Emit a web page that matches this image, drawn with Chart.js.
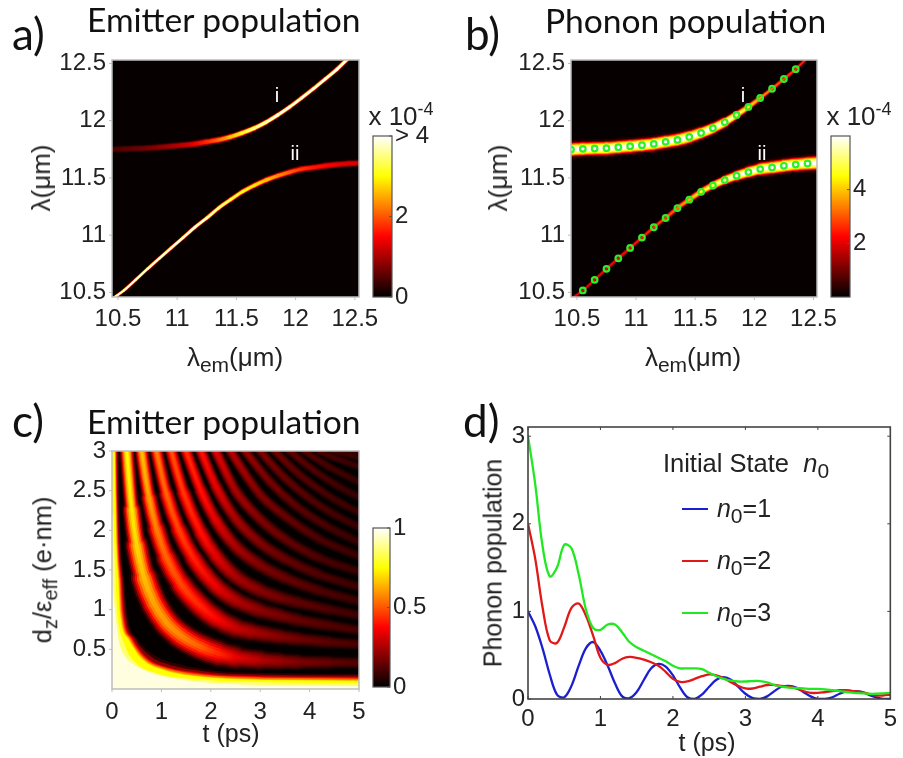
<!DOCTYPE html>
<html><head><meta charset="utf-8">
<script src="https://cdn.jsdelivr.net/npm/chart.js@4"></script>
<style>
html,body{margin:0;padding:0;background:#fff;width:903px;height:758px;overflow:hidden}
#page{position:absolute;left:0;top:0;width:903px;height:758px;filter:blur(.45px)}
canvas{position:absolute;left:0;top:0}
.t{position:absolute;white-space:nowrap;font-family:"Liberation Sans",sans-serif;color:#222;z-index:5;line-height:1;transform:translate(-50%,-50%)}
.h{position:absolute;white-space:nowrap;font-family:Lato,sans-serif;color:#111;z-index:5;line-height:1;transform:translateY(-50%)}
.r{transform:translate(-50%,-50%) rotate(-90deg)}
.l{position:absolute;height:2px;width:26px;left:682px;z-index:5}
sub,sup{line-height:0}
i{font-style:italic}
</style></head><body><div id="page">
<div class="h" style="left:12px;top:33px;font-size:44px">a)</div>
<div class="h" style="left:87px;top:20px;font-size:33.6px">Emitter population</div>
<div class="h" style="left:465px;top:33px;font-size:44px">b)</div>
<div class="h" style="left:545px;top:21px;font-size:33.6px">Phonon population</div>
<div class="h" style="left:12px;top:420px;font-size:44px">c)</div>
<div class="h" style="left:87px;top:422px;font-size:33.6px">Emitter population</div>
<div class="h" style="left:463px;top:420px;font-size:44px">d)</div>
<div class="t r" style="left:41px;top:178px;font-size:26px">λ(μm)</div>
<div class="t" style="left:235px;top:357px;font-size:26px">λ<sub style="font-size:21px">em</sub>(μm)</div>
<div class="t r" style="left:498px;top:178px;font-size:26px">λ(μm)</div>
<div class="t" style="left:693px;top:357px;font-size:26px">λ<sub style="font-size:21px">em</sub>(μm)</div>
<div class="t r" style="left:43px;top:570px;font-size:25.5px">d<sub style="font-size:20px">z</sub>/ε<sub style="font-size:20px">eff</sub> (e·nm)</div>
<div class="t" style="left:231px;top:733px;font-size:25px">t (ps)</div>
<div class="t r" style="left:493px;top:563px;font-size:25px">Phonon population</div>
<div class="t" style="left:707px;top:742px;font-size:25px">t (ps)</div>
<div class="t" style="left:401px;top:116px;font-size:26px">x 10<sup style="font-size:18px">-4</sup></div>
<div class="t" style="left:859px;top:116px;font-size:26px">x 10<sup style="font-size:18px">-4</sup></div>
<div class="t" style="left:277px;top:95px;font-size:20px;color:#fff">i</div>
<div class="t" style="left:295px;top:153px;font-size:20px;color:#fff">ii</div>
<div class="t" style="left:743px;top:95px;font-size:20px;color:#fff">i</div>
<div class="t" style="left:762px;top:153px;font-size:20px;color:#fff">ii</div>
<div class="t" style="left:746px;top:464px;font-size:25.5px">Initial State &nbsp;<i>n</i><sub style="font-size:21px">0</sub></div>
<div class="l" style="top:508px;background:#1a1fd0"></div>
<div class="l" style="top:560px;background:#e01818"></div>
<div class="l" style="top:612px;background:#22e822"></div>
<div class="t" style="left:744px;top:508px;font-size:25px"><i>n</i><sub style="font-size:21px">0</sub>=1</div>
<div class="t" style="left:744px;top:560px;font-size:25px"><i>n</i><sub style="font-size:21px">0</sub>=2</div>
<div class="t" style="left:744px;top:612px;font-size:25px"><i>n</i><sub style="font-size:21px">0</sub>=3</div>
</div>
<script>
// ---------- data ----------
const wavelengthTicks=[10.5,11,11.5,12,12.5];
const upperX=[10.45,10.55,10.65,10.75,10.85,10.95,11.05,11.15,11.25,11.35,11.45,11.55,11.65,11.75,11.85,11.95,12.05,12.15,12.25,12.35];
const upperL=[11.748,11.754,11.757,11.76,11.768,11.777,11.786,11.797,11.815,11.832,11.858,11.893,11.934,11.986,12.05,12.12,12.198,12.279,12.364,12.45];
const lowerX=[10.55,10.65,10.75,10.85,10.95,11.05,11.15,11.25,11.35,11.45,11.55,11.65,11.75,11.85,11.95,12.05,12.15,12.25,12.35,12.45];
const lowerL=[10.517,10.61,10.706,10.798,10.889,10.979,11.069,11.15,11.237,11.31,11.379,11.434,11.481,11.519,11.551,11.577,11.591,11.606,11.617,11.626];
const upperTail=[[12.44,12.54]];
const lowerHead=[[10.46,10.45]];
const lowerTail=[[12.54,11.63]];

const timeTicks=[0,1,2,3,4,5];
const couplingTicks=[0.5,1,1.5,2,2.5,3];
// fringes of panel c as [t, d] pairs
const ridge1=[[.29,3.1],[.3,3],[.4,2.26],[.5,1.81],[.65,1.4],[.85,1.08],[1.1,.84],[1.4,.67],[1.8,.53],[2.15,.45],[2.5,.4],[3,.365],[3.4,.35],[3.77,.34],[4.4,.335],[5.1,.33]];
const ridge2=[[.57,3.15],[.6,3],[.75,2.41],[.9,2.02],[1.1,1.66],[1.4,1.32],[1.8,1.04],[2.1,.895],[2.5,.77],[2.8,.725],[3.1,.69],[3.4,.66],[3.77,.63],[4.4,.59],[5.1,.56]];
const ridge3=[[.85,3.17],[.9,3],[1.1,2.46],[1.35,2.01],[1.65,1.65],[2.1,1.3],[2.5,1.12],[3,.99],[3.4,.925],[3.77,.87],[4.4,.8],[5.1,.73]];
const ridge4=[[1.1,3.25],[1.2,3],[1.45,2.47],[1.8,1.97],[2.1,1.68],[2.5,1.42],[3,1.24],[3.4,1.15],[3.77,1.09],[4.4,1],[5.1,.92]];
const ridge5=[[1.4,3.18],[1.5,3],[1.8,2.5],[2.1,2.13],[2.5,1.8],[3,1.56],[3.5,1.4],[4.2,1.24],[5.1,1.09]];
const ridge6=[[1.7,3.15],[1.8,3],[2.1,2.56],[2.5,2.15],[3,1.84],[3.5,1.64],[4.2,1.44],[5.1,1.27]];
const ridge7=[[2,3.13],[2.1,3],[2.5,2.5],[3,2.14],[3.5,1.89],[4.2,1.65],[5.1,1.46]];
const ridge8=[[2.3,3.11],[2.4,3],[3,2.45],[3.5,2.18],[4.2,1.89],[5.1,1.65]];
const ridge9=[[2.6,3.09],[2.7,3],[3.2,2.61],[3.7,2.32],[4.3,2.07],[5.1,1.82]];
const ridge10=[[2.9,3.08],[3,3],[3.5,2.66],[4,2.4],[4.5,2.2],[5.1,2.01]];
const ridge11=[[3.2,3.07],[3.3,3],[3.8,2.7],[4.3,2.47],[4.7,2.32],[5.1,2.2]];
const ridge12=[[3.5,3.06],[3.6,3],[4.1,2.75],[4.6,2.55],[5.1,2.39]];
const ridge13=[[3.8,3.05],[3.9,3],[4.4,2.8],[4.8,2.67],[5.1,2.58]];
const ridge14=[[4.1,3.04],[4.2,3],[4.7,2.87],[5.1,2.78]];
const ridge15=[[4.4,3.02],[4.5,3],[5.1,2.9]];
const ridge16=[[4.7,3.02],[4.8,3],[5.1,2.97]];
const ridges=[ridge1,ridge2,ridge3,ridge4,ridge5,ridge6,ridge7,ridge8,ridge9,ridge10,ridge11,ridge12,ridge13,ridge14,ridge15,ridge16];
// level contours of the bright corner of panel c
const contourDark=[[0,3.1],[.13,3.1],[.15,2.4],[.18,1.8],[.24,1.39],[.3,.97],[.52,.63],[.88,.42],[1.3,.32],[1.85,.25],[2.49,.21],[5.1,.19]];
const contourDarkRed=[[0,3.1],[.11,3.1],[.13,2.4],[.16,1.8],[.22,1.39],[.27,.97],[.475,.63],[.81,.4],[1.2,.3],[1.85,.225],[2.49,.19],[5.1,.17]];
const contourRed=[[0,3.1],[.09,3.1],[.11,2.4],[.14,1.8],[.195,1.39],[.24,.97],[.43,.63],[.74,.38],[1.1,.28],[1.85,.2],[2.49,.17],[5.1,.15]];
const contourOrangeRed=[[0,3.1],[.08,3.1],[.1,2.4],[.128,1.8],[.178,1.39],[.22,.97],[.405,.63],[.705,.38],[1.09,.27],[1.85,.187],[2.49,.16],[5.1,.137]];
const contourOrange=[[0,3.1],[.07,3.1],[.09,2.4],[.115,1.8],[.16,1.39],[.2,.97],[.38,.63],[.67,.38],[1.08,.26],[1.85,.175],[2.49,.15],[5.1,.125]];
const contourYellowOrange=[[0,3.1],[.06,3.1],[.08,2.4],[.102,1.8],[.144,1.39],[.18,.97],[.355,.63],[.635,.38],[1.075,.247],[1.85,.162],[2.49,.137],[5.1,.112]];
const contourYellow=[[0,3.1],[.05,3.1],[.07,2.4],[.09,1.8],[.128,1.39],[.16,.97],[.33,.63],[.6,.38],[1.07,.235],[1.85,.15],[2.49,.125],[5.1,.10]];
const contourPale=[[0,2.2],[.03,2.2],[.05,1.8],[.085,1.2],[.125,.88],[.24,.58],[.45,.35],[.9,.2],[1.8,.12],[2.49,.095],[5.1,.07]];
const contourWhite=[[0,1.5],[.03,1.2],[.094,.8],[.16,.55],[.3,.38],[.465,.3],[.84,.196],[1.78,.09],[2.49,.06],[5.1,.035]];

const tSamples=[0,.1,.2,.3,.4,.5,.6,.7,.8,.9,1,1.1,1.2,1.3,1.4,1.5,1.6,1.7,1.8,1.9,2,2.1,2.2,2.3,2.4,2.5,2.6,2.7,2.8,2.9,3,3.1,3.2,3.3,3.4,3.5,3.6,3.7,3.8,3.9,4,4.1,4.2,4.3,4.4,4.5,4.6,4.7,4.8,4.9,5];
const phononN1=[1,.83,.58,.28,.05,.02,.15,.38,.58,.65,.55,.38,.18,.03,.01,.08,.22,.35,.4,.37,.27,.13,.02,0,.05,.14,.22,.25,.22,.14,.06,.01,0,.03,.09,.14,.15,.13,.08,.03,0,0,.02,.06,.09,.09,.08,.05,.02,0,0];
const phononN2=[2,1.6,1.05,.67,.64,.82,1.04,1.09,.95,.72,.47,.39,.41,.46,.48,.47,.45,.42,.38,.31,.23,.195,.2,.23,.26,.28,.27,.24,.19,.15,.12,.12,.14,.16,.16,.15,.14,.12,.09,.07,.07,.08,.09,.1,.1,.09,.08,.06,.04,.04,.05];
const phononN3=[3,2.45,1.75,1.4,1.5,1.76,1.72,1.42,1.02,.81,.79,.85,.85,.76,.65,.59,.55,.51,.47,.43,.38,.35,.35,.35,.34,.3,.26,.23,.21,.2,.2,.205,.205,.19,.16,.14,.13,.125,.12,.115,.115,.11,.1,.09,.08,.07,.065,.06,.06,.065,.07];
const phononTicks=[0,1,2,3];

// ---------- styling helpers ----------
const pts=a=>a.map(p=>({x:p[0],y:p[1]}));
const zip=(x,y)=>x.map((v,i)=>({x:v,y:y[i]}));
function hot(v){v=Math.max(0,Math.min(1,v));
  const r=Math.min(1,v/.375),g=Math.max(0,Math.min(1,(v-.375)/.375)),b=Math.max(0,Math.min(1,(v-.75)/.25));
  return `rgb(${Math.round(r*255)},${Math.round(g*255)},${Math.round(b*255)})`;}
function look(st,x){if(x<=st[0][0])return st[0][1];
  for(let i=1;i<st.length;i++){if(x<=st[i][0]){const a=st[i-1],b=st[i];return a[1]+(b[1]-a[1])*(x-a[0])/(b[0]-a[0]);}}
  return st[st.length-1][1];}
const mono={tension:0,cubicInterpolationMode:'monotone',pointRadius:0,pointHoverRadius:0,fill:false,borderCapStyle:'round',borderJoinStyle:'round'};

function stripe(data,layers,widthAt,valueAt,baseOrder){
  return layers.map((ly,i)=>({...mono,data,order:baseOrder+layers.length-i,borderColor:'#000',borderWidth:2,
    segment:{
      borderColor:c=>{
        const a=c.p0,b=c.p1;
        const g=c.chart.ctx.createLinearGradient(a.x,a.y,b.x,b.y);
        g.addColorStop(0,hot(valueAt(a.parsed.x,a.parsed.y)*ly[1]));
        g.addColorStop(1,hot(valueAt(b.parsed.x,b.parsed.y)*ly[1]));
        return g;},
      borderWidth:c=>Math.max(.4,widthAt((c.p0.parsed.x+c.p1.parsed.x)/2,(c.p0.parsed.y+c.p1.parsed.y)/2)*ly[0])
    }}));
}
function framePlugin(col,tickLen,inward,allSides,bw){
  return {id:'frame',afterDraw(ch){
    const a=ch.chartArea,c=ch.ctx;c.save();c.strokeStyle=col;c.lineWidth=bw;
    c.strokeRect(a.left,a.top,a.right-a.left,a.bottom-a.top);
    c.lineWidth=1;c.beginPath();
    const sx=ch.scales.x,sy=ch.scales.y;
    if(sx&&sx.options.display!==false)sx.ticks.forEach(t=>{const p=sx.getPixelForValue(t.value);
      c.moveTo(p,a.bottom);c.lineTo(p,a.bottom+(inward?-tickLen:tickLen));
      if(allSides){c.moveTo(p,a.top);c.lineTo(p,a.top+tickLen);}});
    if(sy)sy.ticks.forEach(t=>{const p=sy.getPixelForValue(t.value);
      if(sy.options.position==='right'){c.moveTo(a.right,p);c.lineTo(a.right-tickLen,p);}
      else{c.moveTo(a.left,p);c.lineTo(a.left+(inward?tickLen:-tickLen),p);
        if(allSides){c.moveTo(a.right,p);c.lineTo(a.right-tickLen,p);}}});
    c.stroke();c.restore();}};
}
function bgPlugin(col){return {id:'bg',beforeDatasetsDraw(ch){const a=ch.chartArea,c=ch.ctx;c.save();c.fillStyle=col;c.fillRect(a.left,a.top,a.right-a.left,a.bottom-a.top);c.restore();}};}
const tickFont={family:'"Liberation Sans"',size:24};
function axis(min,max,tickVals,position,size,pad){
  const horiz=position==='bottom';
  return {type:'linear',position,min,max,offset:false,
    grid:{display:false,drawTicks:false},border:{display:false},
    afterBuildTicks:s=>{s.ticks=tickVals.map(v=>({value:v}));},
    afterFit:s=>{if(horiz)s.height=size;else s.width=size;},
    ticks:{autoSkip:false,maxRotation:0,minRotation:0,padding:pad,color:'#222',font:tickFont,callback:v=>String(v)}};
}
function panel(box,datasets,scales,plugins){
  const cv=document.createElement('canvas');cv.width=903;cv.height=758;cv.style.width='903px';cv.style.height='758px';
  document.getElementById('page').appendChild(cv);
  return new Chart(cv,{type:'line',data:{datasets},plugins,options:{responsive:false,animation:false,events:[],
    layout:{padding:box},scales,
    plugins:{legend:{display:false},tooltip:{enabled:false},title:{display:false}}}});
}
const box=(l,t,r,b,yw,xh)=>({left:l-yw,top:t,right:903-r,bottom:758-b-xh});

// ---------- panel a and b ----------
const upperLine=[...zip(upperX,upperL),...pts(upperTail)];
const lowerLine=[...pts(lowerHead),...zip(lowerX,lowerL),...pts(lowerTail)];
const ridgeLayersA=[[1,.1],[.85,.3],[.7,.55],[.55,.8],[.4,1]];
const ridgeLayersB=[[1.25,.05],[1,.18],[.88,.38],[.76,.58],[.62,.74],[.46,.86],[.26,1]];
const aUpperV=[[10.45,.11],[10.8,.19],[11.1,.3],[11.3,.48],[11.5,.72],[11.65,.9],[11.85,1]];
const aUpperW=[[10.45,8],[11.2,8],[11.5,7],[11.8,5.5],[12,5],[12.5,5]];
const aLowerV=[[10.45,1],[11.2,1],[11.35,.9],[11.5,.8],[11.7,.7],[11.9,.55],[12.1,.42],[12.53,.3]];
const aLowerW=[[10.45,3.5],[11.2,4.5],[11.5,5.5],[11.8,7],[12.53,8]];
const bUpperV=[[10.45,1],[11.7,1],[11.85,.9],[12,.65],[12.2,.5],[12.53,.4]];
const bUpperW=[[10.45,15],[11.4,14],[11.7,11],[11.9,7],[12.1,4.5],[12.53,3]];
const bLowerV=[[10.47,.35],[11,.4],[11.3,.5],[11.5,.7],[11.7,.9],[11.9,1]];
const bLowerW=[[10.47,3],[11.2,4],[11.5,6.5],[11.8,10],[12.1,14],[12.53,15]];
const bgDark='#070000';

panel(box(112,60,359,297,70,46),[
  ...stripe(upperLine,ridgeLayersA,x=>look(aUpperW,x),x=>look(aUpperV,x),0),
  ...stripe(lowerLine,ridgeLayersA,x=>look(aLowerW,x),x=>look(aLowerV,x),0)
],{x:axis(10.45,12.535,wavelengthTicks,'bottom',46,8),y:axis(10.46,12.53,wavelengthTicks,'left',70,6)},
[bgPlugin(bgDark),framePlugin('#bdbdbd',3,false,false,1.5)]);

panel(box(571,60,817,297,70,46),[
  {type:'line',data:zip(upperX,upperL),showLine:false,pointRadius:2.8,pointBorderWidth:2.2,pointBorderColor:'#2cf02c',pointBackgroundColor:'rgba(0,0,0,0)',order:-2},
  {type:'line',data:zip(lowerX,lowerL),showLine:false,pointRadius:2.8,pointBorderWidth:2.2,pointBorderColor:'#2cf02c',pointBackgroundColor:'rgba(0,0,0,0)',order:-2},
  ...stripe(upperLine,ridgeLayersB,x=>look(bUpperW,x),x=>look(bUpperV,x),0),
  ...stripe(lowerLine,ridgeLayersB,x=>look(bLowerW,x),x=>look(bLowerV,x),0)
],{x:axis(10.45,12.53,wavelengthTicks,'bottom',46,8),y:axis(10.46,12.53,wavelengthTicks,'left',70,6)},
[bgPlugin(bgDark),framePlugin('#bdbdbd',3,false,false,1.5)]);

// ---------- panel c ----------
const fringeLayers=[[.9,.05],[.78,.2],[.67,.4],[.55,.6],[.43,.78],[.29,.92],[.14,1]];
const fringePeak=[[0,.95],[.3,.75],[.6,.66],[.9,.56],[1.3,.48],[1.9,.38],[2.5,.25],[3,.19],[3.8,.13],[5,.08]];
const fringeBoost=[[.2,1.5],[.5,1.3],[1,1.08],[1.5,1],[2,1]];
const fringeWidth=(t,d)=>Math.max(10,Math.min(34,.95/Math.hypot(d/49.4,t/79.4)));
const fringeValue=(t,d)=>Math.min(.8,look(fringePeak,t)*look(fringeBoost,d));
const contourSets=[[contourDark,.07],[contourDarkRed,.2],[contourRed,.33],[contourOrangeRed,.44],[contourOrange,.55],[contourYellowOrange,.65],[contourYellow,.75],[contourPale,.86],[contourWhite,.97]].map((c,i)=>({
  ...mono,data:pts(c[0]),borderWidth:0,borderColor:'rgba(0,0,0,0)',backgroundColor:hot(c[1]),fill:'origin',order:-10-i
}));
panel(box(112,451,359,689,70,46),[
  ...ridges.flatMap(r=>stripe(pts(r),fringeLayers,fringeWidth,fringeValue,0)),
  ...contourSets
],{x:axis(0,5,timeTicks,'bottom',46,9),y:axis(0,3,couplingTicks,'left',70,6)},
[bgPlugin('#050000'),framePlugin('#bdbdbd',3,false,false,1.5)]);

// ---------- panel d ----------
const curve=(v,col,o)=>({...mono,cubicInterpolationMode:'default',tension:.35,data:zip(tSamples,v),borderColor:col,borderWidth:2.3,order:o});
panel(box(528,427,896,699,70,46),[
  curve(phononN3,'#22e822',1),curve(phononN2,'#e01818',2),curve(phononN1,'#1a1fd0',3)
],{x:axis(0,5,timeTicks,'bottom',46,6),y:axis(0,3.105,phononTicks,'left',70,3)},
[framePlugin('#444',3,true,true,1.6)]);

// ---------- colour bars ----------
function colorbar(l,t,r,b,maxV,vals,labelFn){
  const ds=[{type:'bar',data:[{x:'c',y:maxV}],categoryPercentage:1,barPercentage:1,borderWidth:0,
    backgroundColor:c=>{const a=c.chart.chartArea;if(!a)return '#000';
      const g=c.chart.ctx.createLinearGradient(0,a.bottom,0,a.top);
      g.addColorStop(0,'#000');g.addColorStop(.375,'#f00');g.addColorStop(.75,'#ff0');g.addColorStop(1,'#fff');return g;}}];
  const y=axis(0,maxV,vals,'right',50,3);y.ticks.callback=labelFn;
  panel({left:l,top:t,right:903-r-50,bottom:758-b},ds,
    {x:{type:'category',labels:['c'],display:false,offset:true,grid:{display:false}},y},
    [framePlugin('#555',3,true,false,1.2)]);
}
const barTicksA=[0,2,4];
const barTicksB=[2,4];
const barTicksC=[0,.5,1];
colorbar(373,136,392,297,4,barTicksA,v=>v===4?'> 4':String(v));
colorbar(831,136,850,297,6,barTicksB,v=>String(v));
colorbar(373,528,390,687,1,barTicksC,v=>String(v));
</script>
</body></html>
